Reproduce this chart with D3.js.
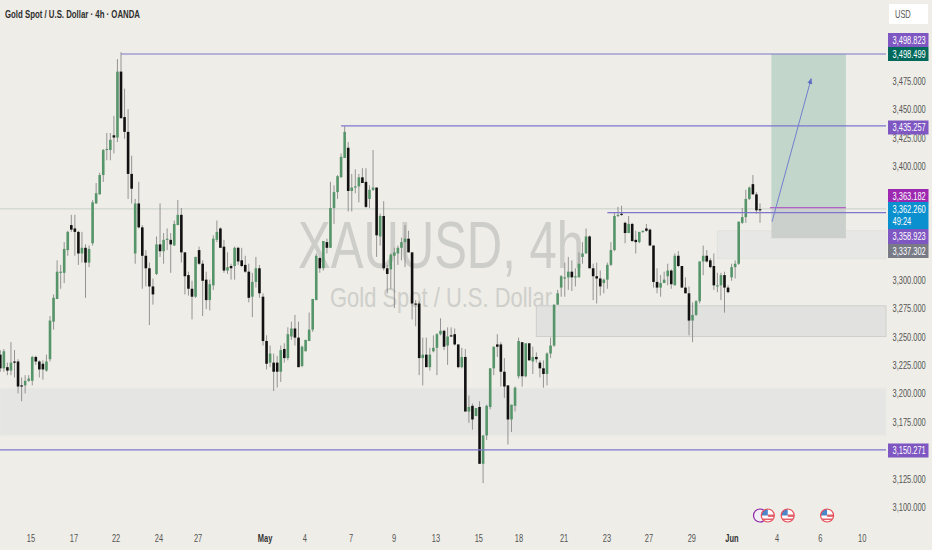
<!DOCTYPE html>
<html><head><meta charset="utf-8">
<script src="https://cdnjs.cloudflare.com/ajax/libs/d3/7.8.5/d3.min.js"></script>
<style>html,body{margin:0;padding:0;background:#eeede7;overflow:hidden}svg{display:block}text{font-family:"Liberation Sans",sans-serif}</style>
</head><body><svg id="c" width="932" height="550"></svg>
<script>
const opens=[3234,3222,3223,3220,3228,3228,3207,3207,3211,3211,
3232,3228,3226,3220,3230,3263,3283,3306,3306,3326,
3348,3345,3342,3323,3328,3315,3332,3367,3375,3392,
3414,3414,3427,3425,3483,3443,3430,3393,3323,3367,
3346,3321,3310,3294,3305,3331,3325,3335,3335,3330,
3348,3357,3324,3304,3292,3285,3326,3314,3300,3282,
3295,3335,3345,3329,3308,3312,3312,3328,3317,3313,
3307,3285,3298,3310,3285,3246,3227,3227,3227,3219,
3239,3231,3250,3257,3249,3224,3237,3246,3256,3282,
3319,3310,3333,3328,3363,3377,3390,3407,3416,3378,
3381,3382,3390,3386,3371,3379,3381,3338,3356,3310,
3309,3321,3323,3328,3333,3336,3324,3279,3279,3231,
3234,3223,3237,3240,3252,3255,3242,3251,3252,3243,
3223,3232,3184,3189,3180,3188,3138,3163,3188,3222,
3243,3243,3219,3207,3177,3189,3215,3245,3215,3244,
3228,3232,3227,3222,3217,3235,3242,3278,3293,3301,
3302,3307,3302,3302,3320,3323,3338,3310,3303,3301,
3297,3300,3313,3326,3356,3358,3350,3341,3349,3335,
3333,3342,3345,3344,3330,3298,3293,3297,3303,3308,
3295,3321,3312,3293,3288,3264,3269,3281,3316,3321,
3317,3312,3294,3295,3304,3293,3302,3311,3314,3350,
3355,3371,3384,3375,3362];
const highs=[3238,3239,3227,3245,3238,3230,3214,3216,3216,3233,
3233,3229,3229,3234,3268,3287,3317,3313,3333,3343,
3357,3357,3343,3342,3331,3330,3370,3385,3394,3415,
3429,3429,3444,3494,3500,3468,3450,3409,3371,3386,
3348,3326,3315,3301,3338,3367,3341,3345,3341,3352,
3370,3363,3324,3307,3299,3320,3329,3317,3307,3300,
3339,3352,3346,3335,3324,3314,3329,3329,3328,3321,
3314,3306,3320,3313,3288,3251,3242,3235,3233,3242,
3244,3258,3263,3269,3263,3242,3247,3271,3283,3323,
3320,3334,3336,3386,3383,3392,3411,3435,3421,3393,
3397,3393,3398,3398,3383,3414,3381,3358,3369,3313,
3323,3328,3330,3337,3348,3343,3324,3282,3281,3249,
3249,3240,3251,3253,3266,3256,3258,3258,3257,3243,
3240,3239,3198,3191,3187,3193,3163,3190,3222,3241,
3252,3245,3231,3207,3190,3206,3249,3245,3244,3244,
3241,3236,3229,3229,3236,3249,3278,3291,3304,3315,
3320,3317,3310,3324,3333,3345,3339,3314,3315,3308,
3301,3315,3333,3359,3364,3365,3351,3356,3350,3343,
3342,3343,3349,3345,3330,3310,3304,3307,3314,3309,
3323,3325,3312,3302,3294,3280,3282,3316,3330,3326,
3319,3323,3306,3306,3307,3295,3314,3317,3351,3363,
3379,3382,3392,3377,3367];
const lows=[3219,3219,3216,3216,3214,3200,3193,3200,3210,3207,
3225,3214,3212,3219,3228,3256,3283,3292,3297,3321,
3342,3321,3313,3315,3284,3311,3330,3367,3375,3386,
3405,3405,3411,3421,3442,3424,3371,3367,3314,3345,
3292,3294,3260,3278,3304,3320,3314,3326,3306,3330,
3348,3315,3287,3286,3265,3284,3313,3268,3274,3273,
3291,3333,3328,3306,3305,3300,3300,3313,3311,3306,
3280,3267,3293,3284,3242,3221,3223,3202,3205,3210,
3227,3229,3247,3242,3223,3223,3237,3246,3254,3282,
3306,3308,3323,3328,3349,3371,3390,3407,3360,3360,
3376,3368,3385,3363,3363,3378,3320,3330,3308,3288,
3292,3275,3313,3317,3311,3324,3265,3259,3216,3207,
3223,3220,3236,3216,3251,3238,3225,3250,3242,3222,
3222,3184,3174,3168,3180,3138,3121,3159,3186,3216,
3232,3206,3196,3155,3166,3184,3213,3206,3214,3229,
3217,3227,3214,3205,3207,3231,3241,3278,3285,3285,
3291,3290,3294,3302,3314,3323,3310,3282,3279,3286,
3288,3292,3312,3325,3355,3356,3332,3341,3333,3323,
3332,3341,3342,3330,3293,3288,3285,3297,3295,3292,
3295,3311,3293,3288,3251,3245,3268,3279,3304,3315,
3310,3291,3289,3282,3271,3288,3299,3301,3313,3349,
3350,3370,3375,3358,3350];
const closes=[3222,3237,3220,3227,3227,3206,3206,3211,3213,3232,
3228,3221,3221,3228,3264,3284,3307,3307,3327,3342,
3344,3342,3323,3328,3315,3327,3368,3376,3392,3414,
3415,3423,3425,3483,3442,3430,3393,3380,3367,3346,
3321,3310,3294,3287,3331,3325,3335,3336,3331,3349,
3357,3324,3303,3292,3285,3320,3314,3299,3282,3296,
3336,3342,3328,3308,3311,3310,3328,3316,3312,3307,
3284,3298,3310,3288,3246,3226,3235,3219,3219,3238,
3231,3252,3257,3249,3223,3241,3247,3256,3283,3321,
3310,3334,3328,3363,3377,3391,3408,3430,3378,3381,
3382,3390,3385,3364,3379,3381,3339,3356,3310,3305,
3322,3324,3328,3333,3336,3324,3279,3278,3231,3234,
3223,3234,3240,3252,3255,3241,3250,3250,3243,3223,
3232,3184,3188,3177,3187,3138,3163,3189,3222,3241,
3241,3219,3206,3177,3190,3205,3246,3215,3244,3229,
3232,3230,3222,3217,3235,3242,3278,3288,3303,3302,
3307,3302,3303,3314,3323,3338,3310,3303,3301,3294,
3300,3313,3326,3356,3357,3357,3341,3349,3334,3333,
3342,3343,3343,3330,3298,3293,3297,3300,3308,3296,
3321,3312,3293,3288,3264,3269,3281,3316,3321,3316,
3311,3295,3295,3304,3293,3289,3311,3314,3351,3355,
3371,3381,3375,3361,3361];

const priceTicks=[3475,3450,3425,3400,3300,3275,3250,3225,3200,3175,3125,3100];
const dateLabels=["15","17","22","24","27","May","4","7","9","13","15","18","21","23","27","29","Jun","4","6","10"];
const dateBars=[8.65,20.76,32.6,44.7,55.7,74.6,85.8,98.8,110.9,122.7,134.8,146.1,158.8,170.9,182.7,194.8,206.1,218.8,231,242.8];
const zoneTops=[3204.5,3277,3343];
const zoneBottoms=[3163,3250,3318.5];
const zoneStarts=[-5,151,202];
const levelPrices=[3498.499,3435.257,3150.271,3358.923];
const levelStarts=[34,96,-5,171];
const eventBars=[214,216.2,221.8,232.9];
const tagLabels=["3,498.823","3,498.499","3,435.257","3,363.182","3,362.260","3,358.923","3,337.302","3,150.271"];

const W=932,H=550,axisX=886,SX=0.68;
const x=d3.scaleLinear().domain([0,214]).range([0.3,760]);
const y=d3.scaleLinear().domain([3100,3475]).range([507,80.7]);
const svg=d3.select("#c");
svg.append("rect").attr("width",W).attr("height",H).attr("fill","#eeede7");

// condensed text helper: horizontally squeezed real text
function cond(parent,tx,ty,size,fill,str,anchor){
  return parent.append("text").attr("transform",`translate(${tx},${ty}) scale(${SX},1)`)
    .attr("font-size",size).attr("fill",fill).attr("text-anchor",anchor||"start").text(str);
}

// watermark
svg.append("text").attr("x",298).attr("y",268).attr("font-size",67).attr("fill","#cdcdc9")
  .attr("textLength",286).attr("lengthAdjust","spacingAndGlyphs").text("XAUUSD, 4h");
svg.append("text").attr("x",330).attr("y",307).attr("font-size",28).attr("fill","#cfcfcb")
  .attr("textLength",222).attr("lengthAdjust","spacingAndGlyphs").text("Gold Spot / U.S. Dollar");

// zones
const zoneFill=["#e5e5e3","#e1e1e0","#e7e7e5"],zoneEdge=["#e9e9e6","#cfcfcd","#e2e2df"];
zoneTops.forEach((t,i)=>{
  svg.append("rect").attr("x",Math.max(0,x(zoneStarts[i]))).attr("y",y(t))
   .attr("width",axisX-Math.max(0,x(zoneStarts[i]))).attr("height",y(zoneBottoms[i])-y(t))
   .attr("fill",zoneFill[i]).attr("stroke",zoneEdge[i]).attr("stroke-width",1);
});

// trade box
const boxX0=x(217.2),boxX1=x(238.2);
svg.append("rect").attr("x",boxX0).attr("y",y(3498.499)).attr("width",boxX1-boxX0).attr("height",y(3363.182)-y(3498.499)).attr("fill","#c2d6cc");
svg.append("rect").attr("x",boxX0).attr("y",y(3363.182)).attr("width",boxX1-boxX0).attr("height",y(3337.302)-y(3363.182)+1).attr("fill","#ccd0cc");

// light current price line
svg.append("line").attr("x1",0).attr("x2",axisX).attr("y1",y(3362.26)).attr("y2",y(3362.26)).attr("stroke","#c8cfcb").attr("stroke-width",1);

// candles
const idx=d3.range(opens.length);
const g=svg.append("g");
g.selectAll("line").data(idx).join("line").attr("x1",i=>x(i)).attr("x2",i=>x(i))
 .attr("y1",i=>y(highs[i])).attr("y2",i=>y(lows[i])).attr("stroke","#8a8a8a").attr("stroke-width",0.9);
g.selectAll("rect").data(idx).join("rect").attr("x",i=>x(i)-1.3).attr("width",2.6)
 .attr("y",i=>y(Math.max(opens[i],closes[i])))
 .attr("height",i=>Math.max(1.2,Math.abs(y(opens[i])-y(closes[i]))))
 .attr("fill",i=>closes[i]>=opens[i]?"#56946a":"#111111");

// levels
levelPrices.forEach((p,i)=>{
  svg.append("line").attr("x1",Math.max(0,x(levelStarts[i]))).attr("x2",axisX).attr("y1",y(p)).attr("y2",y(p))
   .attr("stroke","#7d76cc").attr("stroke-width",1.1);
});
svg.append("line").attr("x1",x(216.8)).attr("x2",boxX1).attr("y1",y(3363.182)).attr("y2",y(3363.182)).attr("stroke","#a83cc0").attr("stroke-width",1.1);

// arrow
const defs=svg.append("defs");
defs.append("marker").attr("id","ah").attr("viewBox","0 0 8 8").attr("refX",7).attr("refY",4).attr("markerWidth",6).attr("markerHeight",6).attr("markerUnits","userSpaceOnUse").attr("orient","auto")
 .append("path").attr("d","M0,0.5L8,4L0,7.5Z").attr("fill","#5f6fc4");
svg.append("line").attr("x1",x(217.4)).attr("y1",y(3351)).attr("x2",x(228.4)).attr("y2",y(3476.7)).attr("stroke","#7280cc").attr("stroke-width",1).attr("marker-end","url(#ah)");

// title
svg.append("text").attr("x",5).attr("y",18).attr("font-size",10.5).attr("font-weight","bold").attr("fill","#2f2f2f")
  .attr("textLength",135).attr("lengthAdjust","spacingAndGlyphs").text("Gold Spot / U.S. Dollar · 4h · OANDA");

// y axis via d3 axis
const yAxis=d3.axisRight(y).tickValues(priceTicks).tickSize(0).tickPadding(0).tickFormat(d3.format(",.3f"));
const ya=svg.append("g").attr("transform","translate(892.5,0)").call(yAxis);
ya.select(".domain").remove();
ya.selectAll("text").attr("font-size",11).attr("fill","#555").attr("transform",`scale(${SX},1)`)
  .style("font-family",'"Liberation Sans",sans-serif');

// x axis
dateLabels.forEach((d,i)=>{
  const major=d==="May"||d==="Jun";
  cond(svg,x(dateBars[i]),541.5,11,major?"#333":"#555",d,"middle").attr("font-weight",major?"bold":"normal");
});

// USD box
svg.append("rect").attr("x",889).attr("y",4).attr("width",39).attr("height",20).attr("fill","#ffffff");
cond(svg,895,17.5,11,"#555","USD");

// tags
const tagTop=[33,47,120.5,189,202,229,244,443.5],tagH=[14,14,14,13.5,27,15,14,14];
const tagCol=["#7e57c2","#00695c","#7e57c2","#9c27b0","#0a8fcf","#7e57c2","#787b86","#7e57c2"];
tagLabels.forEach((t,i)=>{
  svg.append("rect").attr("x",888).attr("y",tagTop[i]).attr("width",40.5).attr("height",tagH[i]).attr("fill",tagCol[i]);
  cond(svg,892.5,tagTop[i]+10.7,11,"#fff",t);
});
cond(svg,892.5,225,11,"#fff","49:24");

// event icons
const evY=515.5,r=6.5;
eventBars.forEach((b,i)=>{
  const cx=x(b);
  if(i===0){
    svg.append("circle").attr("cx",cx).attr("cy",evY).attr("r",r).attr("fill","#f3edf6").attr("stroke","#8e24aa").attr("stroke-width",1.2);
    return;
  }
  const id="clip"+i;
  defs.append("clipPath").attr("id",id).append("circle").attr("cx",cx).attr("cy",evY).attr("r",r);
  const e=svg.append("g");
  e.append("circle").attr("cx",cx).attr("cy",evY).attr("r",r).attr("fill","#fff");
  const c=e.append("g").attr("clip-path",`url(#${id})`);
  c.append("rect").attr("x",cx-r).attr("y",evY-r).attr("width",r).attr("height",r).attr("fill","#4a86c8");
  c.append("rect").attr("x",cx).attr("y",evY-1).attr("width",r).attr("height",2.4).attr("fill","#e0646c");
  c.append("rect").attr("x",cx-r).attr("y",evY+3).attr("width",2*r).attr("height",1.6).attr("fill","#e0646c");
  e.append("circle").attr("cx",cx).attr("cy",evY).attr("r",r).attr("fill","none").attr("stroke","#e84a55").attr("stroke-width",1.2);
});
</script></body></html>
